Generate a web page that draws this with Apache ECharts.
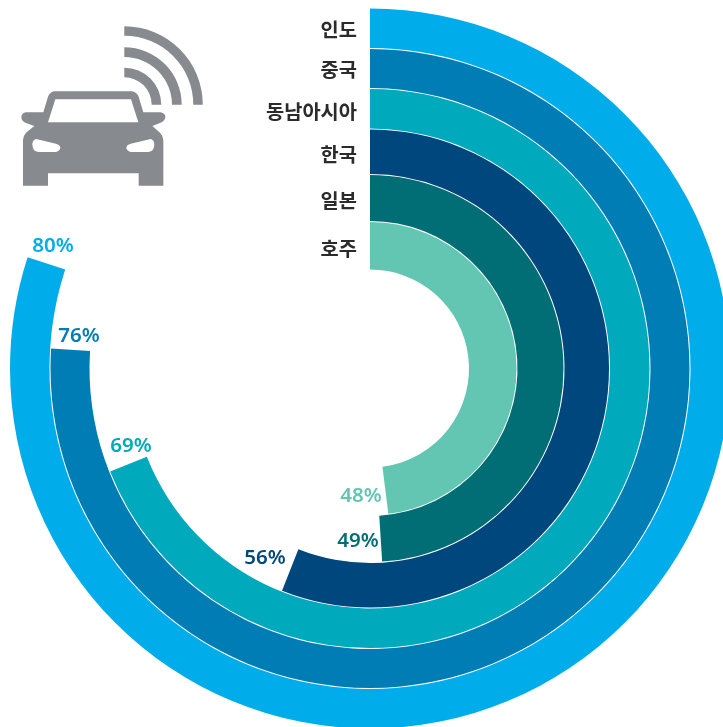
<!DOCTYPE html>
<html lang="ko">
<head>
<meta charset="utf-8">
<title>지역별 비율</title>
<style>
  html, body { margin: 0; padding: 0; background: #ffffff; }
  #chart { width: 723px; height: 727px; }
</style>
<script src="https://cdn.jsdelivr.net/npm/echarts@6/dist/echarts.min.js"></script>
</head>
<body>
<div id="chart"></div>
<script>
// Regions from the outermost ring to the innermost
var regions = ['인도', '중국', '동남아시아', '한국', '일본', '호주'];
var shares = [80, 76, 69, 56, 49, 48];

// Ring styling and layout
var ringColors = ['#00ADEA', '#007DB5', '#00A9BC', '#00477D', '#006E74', '#63C6B2'];
var ringRadii = [[320.5, 360], [280.5, 319.5], [240, 279.5], [194.5, 239], [147.5, 193.5], [99, 146.5]];
var center = [370, 368.5];
var regionLabelTops = [29, 69, 111, 154.5, 200.5, 248];
var shareLabelSpots = [[53, 246], [79, 336], [131, 446], [265, 558], [358, 541], [361, 496]];

var textFont = '"Noto Sans CJK KR", "Noto Sans", sans-serif';
var iconGray = '#878B8F';

var series = regions.map(function (name, i) {
  return {
    type: 'pie',
    name: name,
    center: center,
    radius: ringRadii[i],
    startAngle: 90,
    clockwise: true,
    silent: true,
    animation: false,
    label: { show: false },
    labelLine: { show: false },
    itemStyle: { borderWidth: 0 },
    data: [
      { value: shares[i], name: name, itemStyle: { color: ringColors[i] } },
      { value: 100 - shares[i], name: '', itemStyle: { color: 'transparent' } }
    ]
  };
});

var regionTexts = regions.map(function (name, i) {
  return {
    type: 'text',
    silent: true,
    style: {
      x: 357, y: regionLabelTops[i], text: name,
      align: 'right', verticalAlign: 'middle',
      font: '700 19.8px ' + textFont, fill: '#2B2B2B'
    }
  };
});

var shareTexts = shares.map(function (v, i) {
  return {
    type: 'text',
    silent: true,
    style: {
      x: shareLabelSpots[i][0], y: shareLabelSpots[i][1], text: v + '%',
      align: 'center', verticalAlign: 'middle',
      font: '600 20.5px "Noto Sans", sans-serif', fill: ringColors[i]
    }
  };
});

// Car outlines at triple scale, reduced on placement
var carOutlines = {
  carBody: 'M163 274 L395 274 Q410 276 416 290 L430 337 L482 337 Q496 340 496 351 Q495 364 478 370 L457 378 L480 398 Q490 408 490 420 L490 557 L416 557 L416 520 L144 520 L144 557 L69 557 L69 420 Q69 408 78 398 L103 378 L80 370 Q64 364 64 351 Q65 339 78 337 L130 337 L144 290 Q150 276 163 274 Z',
  carWindow: 'M166 298 L393 298 L415 367 L144 367 Z',
  carLampLeft: 'M108 417 Q98 420 97 432 Q97 455 115 456 L168 456 Q180 452 181 443 Q180 434 168 431 Z',
  carLampRight: 'M452 417 Q462 420 463 432 Q463 455 445 456 L392 456 Q380 452 379 443 Q380 434 392 431 Z'
};
Object.keys(carOutlines).forEach(function (key) {
  echarts.graphic.registerShape(key, echarts.graphic.extendPath(carOutlines[key]));
});

function carPart(key, color) {
  return {
    type: key, silent: true,
    scaleX: 1 / 3, scaleY: 1 / 3,
    style: { fill: color }
  };
}

var waveBands = [[69, 78.5], [47.7, 57.4], [27.4, 37]];
var waves = waveBands.map(function (b) {
  return {
    type: 'sector', silent: true,
    shape: { cx: 124.3, cy: 104.7, r0: b[0], r: b[1], startAngle: -Math.PI / 2, endAngle: 0, clockwise: true },
    style: { fill: iconGray }
  };
});

var chart = echarts.init(document.getElementById('chart'));
chart.setOption({
  backgroundColor: '#ffffff',
  animation: false,
  series: series,
  graphic: {
    elements: [
      carPart('carBody', iconGray),
      carPart('carWindow', '#ffffff'),
      carPart('carLampLeft', '#ffffff'),
      carPart('carLampRight', '#ffffff')
    ].concat(waves, regionTexts, shareTexts)
  }
});
</script>
</body>
</html>
